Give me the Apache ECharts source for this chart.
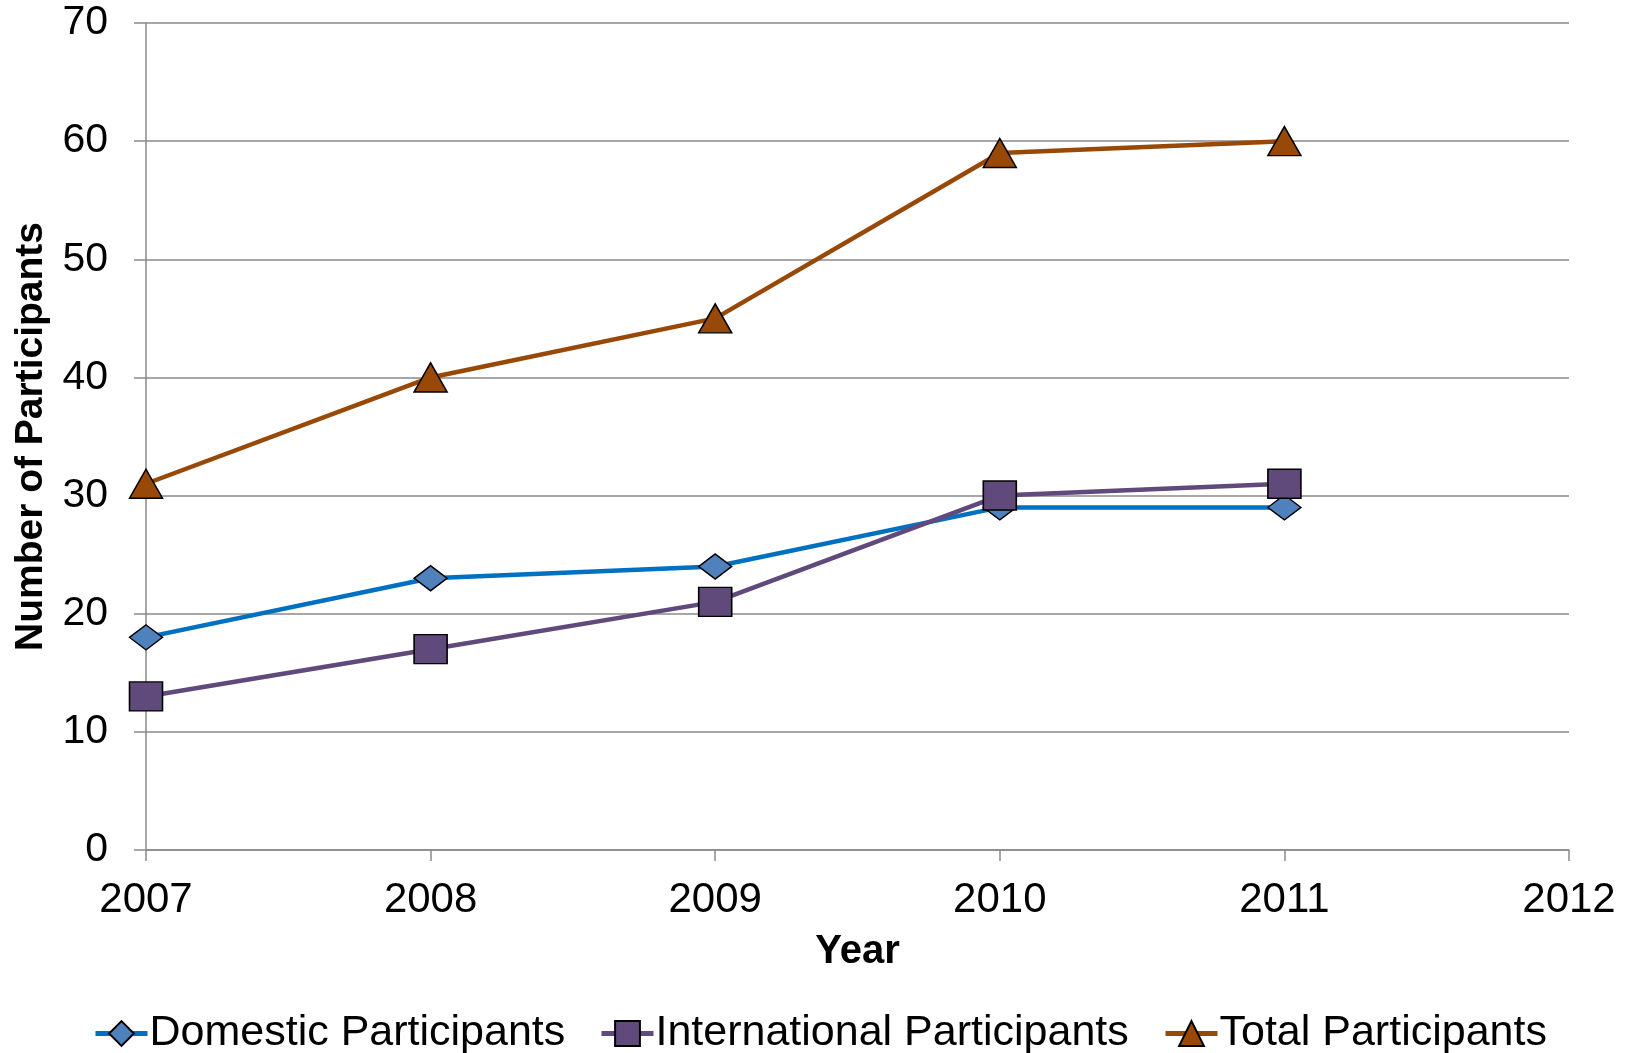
<!DOCTYPE html>
<html>
<head>
<meta charset="utf-8">
<title>Number of Participants by Year</title>
<script src="https://cdn.jsdelivr.net/npm/echarts@6/dist/echarts.min.js"></script>
<style>
  html, body { margin: 0; padding: 0; background: #ffffff; }
  #chart { width: 1625px; height: 1053px; }
</style>
</head>
<body>
<div id="chart"></div>
<script>
// Years on the horizontal axis (2012 is an empty slot at the end)
const years = ['2007', '2008', '2009', '2010', '2011', '2012'];

// Participants per year
const domestic = [18, 23, 24, 29, 29];
const international = [13, 17, 21, 30, 31];
const total = [31, 40, 45, 59, 60];

const seriesNames = ['Domestic Participants', 'International Participants', 'Total Participants'];

const FONT = "'Liberation Sans', Arial, Helvetica, sans-serif";
const GRID_GREY = '#8a8a8a';

const chart = echarts.init(document.getElementById('chart'), null, { renderer: 'canvas' });

function lineSeries(name, data, lineColor, fillColor, symbol, size) {
  return {
    name: name,
    type: 'line',
    data: data,
    symbol: symbol,
    symbolSize: size,
    showAllSymbol: true,
    animation: false,
    lineStyle: { color: lineColor, width: 4.5 },
    itemStyle: { color: fillColor, borderColor: '#000000', borderWidth: 1.5 },
    emphasis: { disabled: true }
  };
}

function legendAt(name, left) {
  return {
    data: [name],
    left: left,
    top: 1012,
    padding: 0,
    itemWidth: 52,
    itemHeight: 31,
    selectedMode: false,
    lineStyle: { width: 5 },
    textStyle: { fontFamily: FONT, fontSize: 43, color: '#000000', padding: [0, 0, 0, -3] }
  };
}

const option = {
  backgroundColor: '#ffffff',
  animation: false,
  grid: { left: 146, right: 56, top: 23, bottom: 203, containLabel: false },
  legend: [
    legendAt(seriesNames[0], 93),
    legendAt(seriesNames[1], 599),
    legendAt(seriesNames[2], 1163)
  ],
  xAxis: {
    type: 'category',
    data: years,
    boundaryGap: false,
    name: 'Year',
    nameLocation: 'middle',
    nameGap: 82,
    nameTextStyle: { fontFamily: FONT, fontSize: 40, fontWeight: 'bold', color: '#000000' },
    axisLine: { show: true, lineStyle: { color: GRID_GREY, width: 1.5 } },
    axisTick: { show: true, alignWithLabel: true, inside: false, length: 11, lineStyle: { color: GRID_GREY, width: 1.5 } },
    axisLabel: { fontFamily: FONT, fontSize: 42, color: '#000000', margin: 29, interval: 0 },
    splitLine: { show: false }
  },
  yAxis: {
    type: 'value',
    min: 0,
    max: 70,
    interval: 10,
    name: 'Number of Participants',
    nameLocation: 'middle',
    nameRotate: 90,
    nameGap: 95,
    nameTextStyle: { fontFamily: FONT, fontSize: 39, fontWeight: 'bold', color: '#000000' },
    axisLine: { show: true, lineStyle: { color: GRID_GREY, width: 1.5 } },
    axisTick: { show: true, inside: false, length: 12, lineStyle: { color: GRID_GREY, width: 1.5 } },
    axisLabel: { fontFamily: FONT, fontSize: 41, color: '#000000', margin: 38 },
    splitLine: { show: true, lineStyle: { color: GRID_GREY, width: 1.5 } }
  },
  series: [
    lineSeries(seriesNames[0], domestic, '#0070c0', '#4f81bd', 'diamond', [33, 25]),
    lineSeries(seriesNames[1], international, '#604a7b', '#604a7b', 'rect', [33, 29]),
    lineSeries(seriesNames[2], total, '#984807', '#984807', 'triangle', [33, 29])
  ]
};

chart.setOption(option);
</script>
</body>
</html>
